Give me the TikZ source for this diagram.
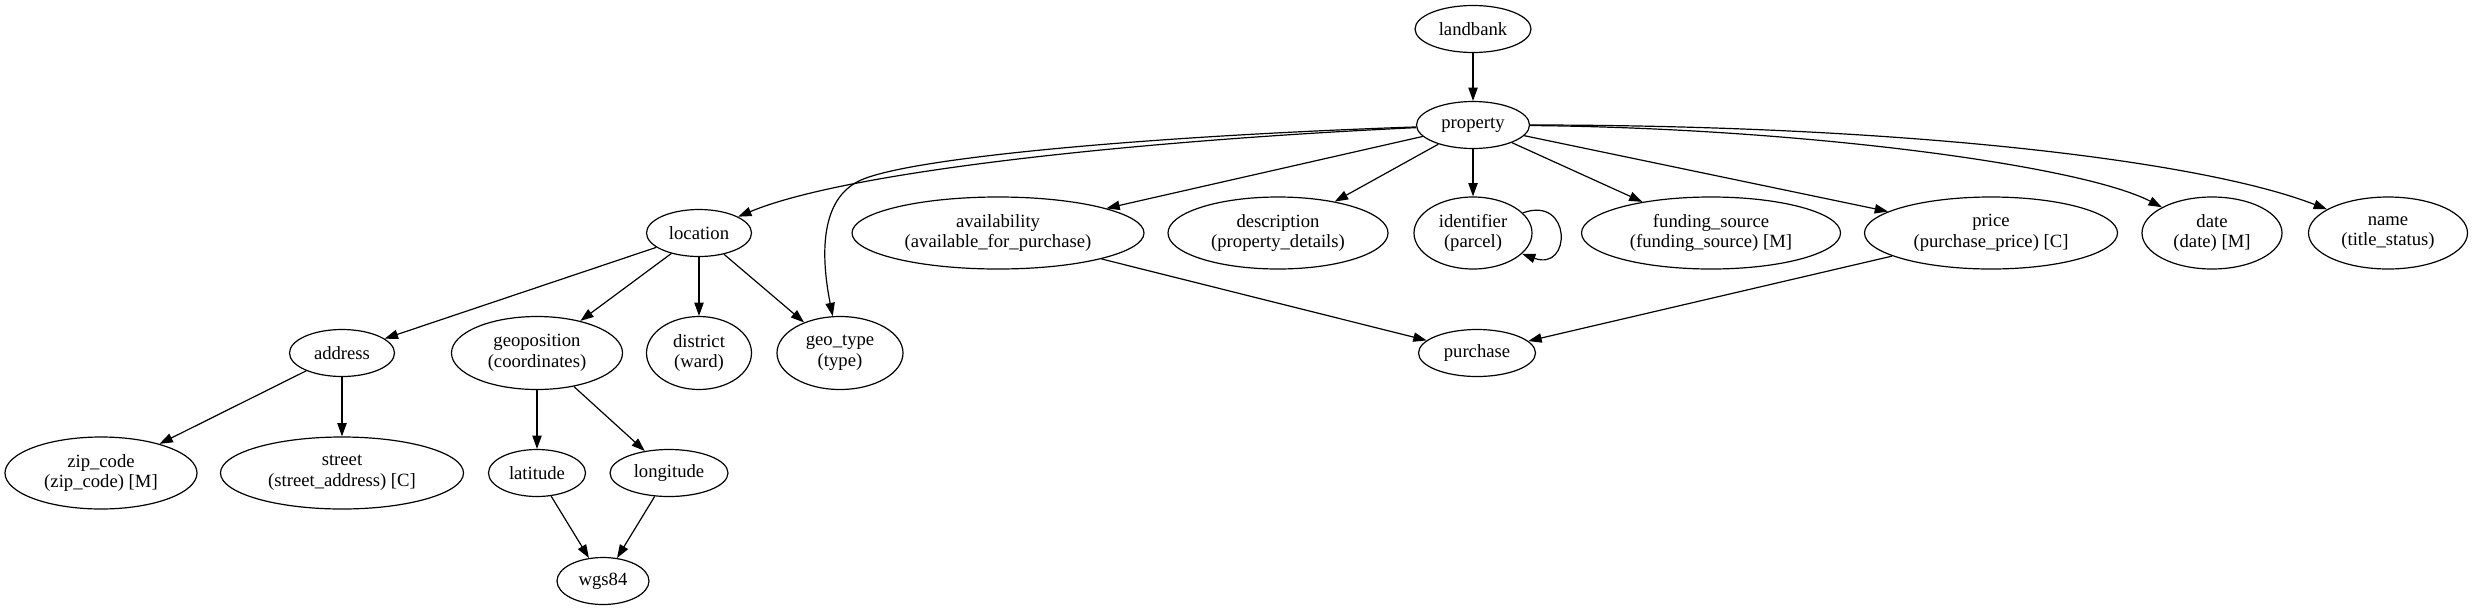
\documentclass[tikz,border=0pt]{standalone}
\usepackage{fontspec}
\setmainfont{Liberation Serif}
\usetikzlibrary{shapes.geometric,arrows.meta}
\tikzset{
  nd/.style 2 args={ellipse, draw, line width=0.9pt, inner sep=0pt, align=center,
    font=\fontsize{14}{15.5}\selectfont,
    minimum width=0.75pt*#1, minimum height=0.75pt*#2},
  e/.style={line width=0.9pt, -{Triangle[length=10pt,width=7pt]}}
}
\begin{document}
\begin{tikzpicture}[x=0.75pt,y=-0.75pt]
\useasboundingbox (0,0) rectangle (2473,611);
\node[nd={116}{47}] (lb) at (1473,29) {landbank};
\node[nd={113}{47}] (prop) at (1473,125) {property};
\node[nd={105}{47}] (loc) at (699,233) {location};
\node[nd={292}{72}] (av) at (998,233) {availability\\(available\_for\_purchase)};
\node[nd={220}{72}] (desc) at (1278,233) {description\\(property\_details)};
\node[nd={118}{72}] (id) at (1473,233) {identifier\\(parcel)};
\node[nd={259}{72}] (fs) at (1711,233) {funding\_source\\(funding\_source) [M]};
\node[nd={253}{72}] (pr) at (1991,233) {price\\(purchase\_price) [C]};
\node[nd={140}{72}] (dt) at (2212,233) {date\\(date) [M]};
\node[nd={159}{72}] (nm) at (2388,233) {name\\(title\_status)};
\node[nd={105}{47}] (addr) at (342,353) {address};
\node[nd={171}{73}] (geo) at (537,353) {geoposition\\(coordinates)};
\node[nd={105}{73}] (dist) at (699,353) {district\\(ward)};
\node[nd={126}{73}] (gt) at (840,353) {geo\_type\\(type)};
\node[nd={117}{47}] (pur) at (1477,353) {purchase};
\node[nd={192}{72}] (zip) at (101,473) {zip\_code\\(zip\_code) [M]};
\node[nd={243}{72}] (st) at (342,473) {street\\(street\_address) [C]};
\node[nd={97}{47}] (lat) at (537,473) {latitude};
\node[nd={118}{47}] (lon) at (669,473) {longitude};
\node[nd={92}{47}] (wgs) at (603,581) {wgs84};

\draw[e] (lb) -- (prop);
\draw[e] (prop) .. controls (1150,140) and (850,170) .. (loc);
\draw[e] (prop) .. controls (1150,136) and (900,158) .. (857,182) .. controls (818,203) and (822,262) .. (gt);
\draw[e] (prop) -- (av);
\draw[e] (prop) -- (desc);
\draw[e] (prop) -- (id);
\draw[e] (prop) -- (fs);
\draw[e] (prop) -- (pr);
\draw[e] (prop) .. controls (1800,128) and (2080,165) .. (dt);
\draw[e] (prop) .. controls (1900,125) and (2200,160) .. (nm);
\draw[e] (id.22) .. controls (1572,195) and (1572,272) .. (id.-23);
\draw[e] (av) -- (pur);
\draw[e] (pr) -- (pur);
\draw[e] (loc) -- (addr);
\draw[e] (loc) -- (geo);
\draw[e] (loc) -- (dist);
\draw[e] (loc) -- (gt);
\draw[e] (addr) -- (zip);
\draw[e] (addr) -- (st);
\draw[e] (geo) -- (lat);
\draw[e] (geo) -- (lon);
\draw[e] (lat) -- (wgs);
\draw[e] (lon) -- (wgs);
\end{tikzpicture}
\end{document}
